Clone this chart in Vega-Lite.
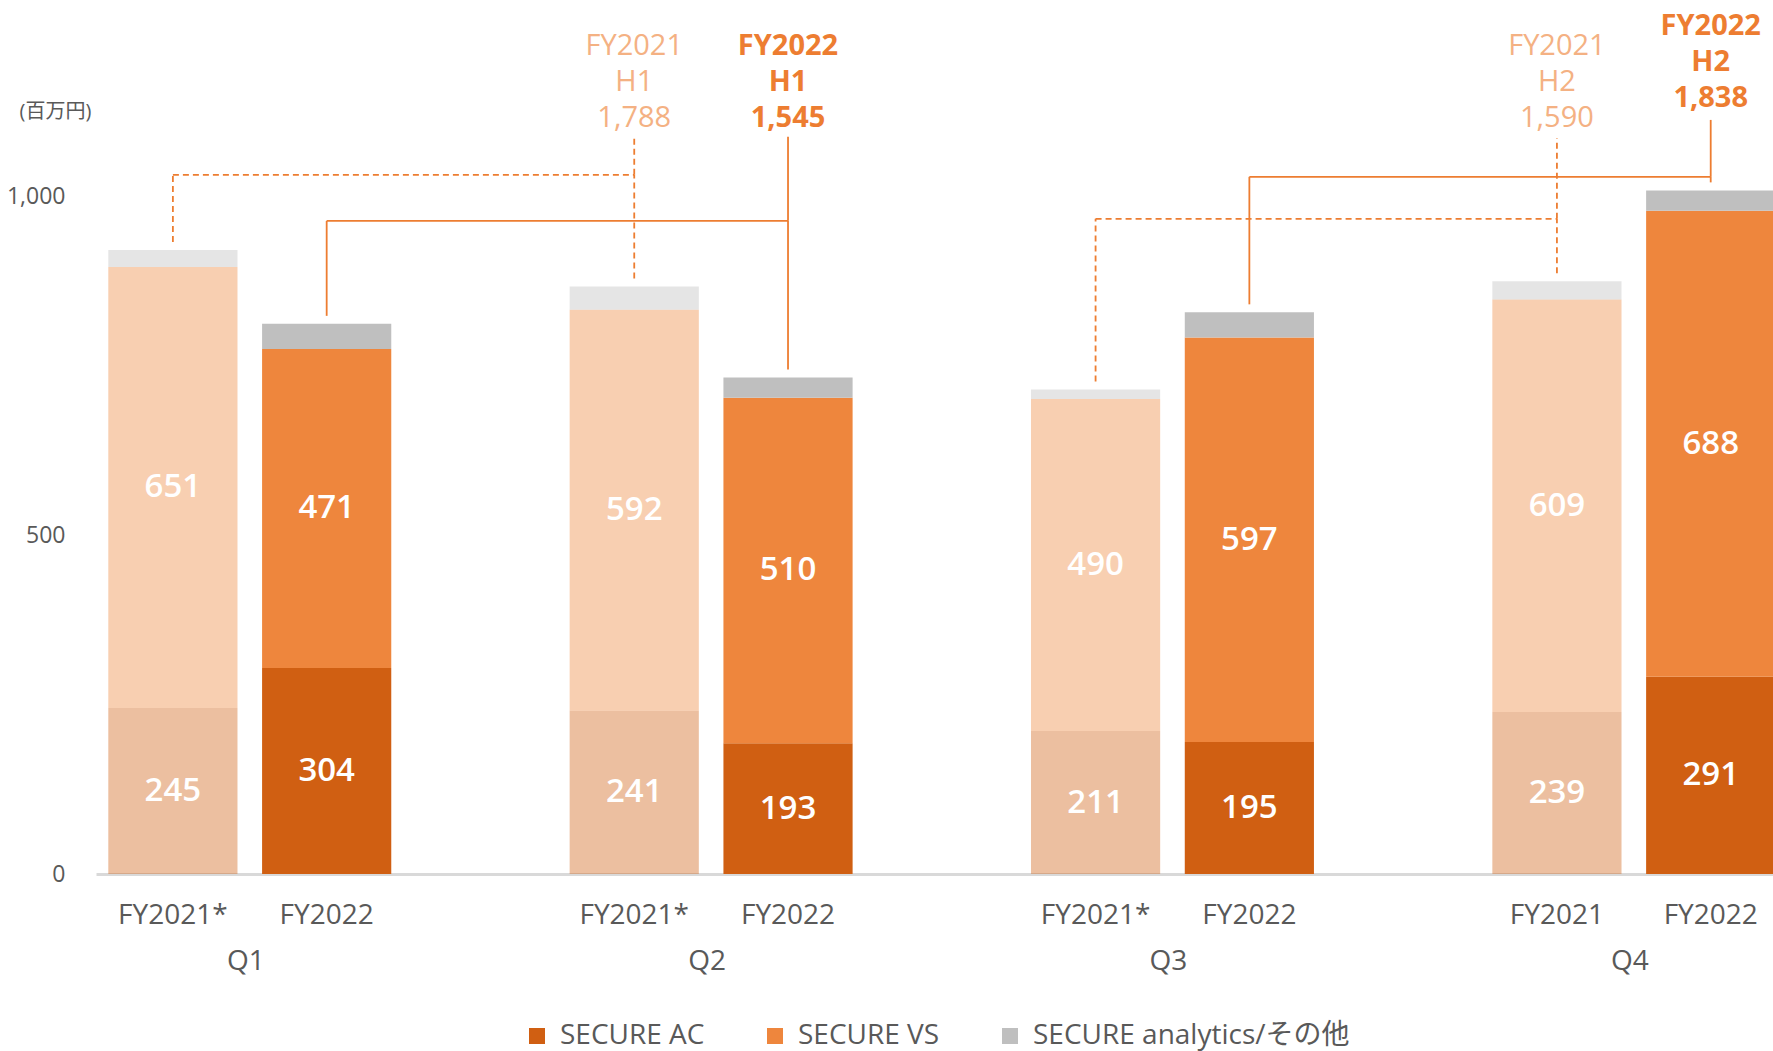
{
  "$schema": "https://vega.github.io/schema/vega-lite/v6.json",
  "width": 1677,
  "height": 874,
  "autosize": {"type": "none"},
  "padding": {"left": 96, "top": 0, "right": 0, "bottom": 177},
  "background": "white",
  "config": {
    "view": {"stroke": null},
    "font": "Open Sans, Noto Sans CJK JP, sans-serif"
  },
  "datasets": {
    "bars": [
      {"q": "Q1", "fy": "FY2021", "half": "H1", "slot": "Q1|FY2021", "seg": "SECURE AC", "v": 245},
      {"q": "Q1", "fy": "FY2021", "half": "H1", "slot": "Q1|FY2021", "seg": "SECURE VS", "v": 651},
      {"q": "Q1", "fy": "FY2021", "half": "H1", "slot": "Q1|FY2021", "seg": "SECURE analytics/その他", "v": 25},
      {"q": "Q1", "fy": "FY2022", "half": "H1", "slot": "Q1|FY2022", "seg": "SECURE AC", "v": 304},
      {"q": "Q1", "fy": "FY2022", "half": "H1", "slot": "Q1|FY2022", "seg": "SECURE VS", "v": 471},
      {"q": "Q1", "fy": "FY2022", "half": "H1", "slot": "Q1|FY2022", "seg": "SECURE analytics/その他", "v": 37},
      {"q": "Q2", "fy": "FY2021", "half": "H1", "slot": "Q2|FY2021", "seg": "SECURE AC", "v": 241},
      {"q": "Q2", "fy": "FY2021", "half": "H1", "slot": "Q2|FY2021", "seg": "SECURE VS", "v": 592},
      {"q": "Q2", "fy": "FY2021", "half": "H1", "slot": "Q2|FY2021", "seg": "SECURE analytics/その他", "v": 34},
      {"q": "Q2", "fy": "FY2022", "half": "H1", "slot": "Q2|FY2022", "seg": "SECURE AC", "v": 193},
      {"q": "Q2", "fy": "FY2022", "half": "H1", "slot": "Q2|FY2022", "seg": "SECURE VS", "v": 510},
      {"q": "Q2", "fy": "FY2022", "half": "H1", "slot": "Q2|FY2022", "seg": "SECURE analytics/その他", "v": 30},
      {"q": "Q3", "fy": "FY2021", "half": "H2", "slot": "Q3|FY2021", "seg": "SECURE AC", "v": 211},
      {"q": "Q3", "fy": "FY2021", "half": "H2", "slot": "Q3|FY2021", "seg": "SECURE VS", "v": 490},
      {"q": "Q3", "fy": "FY2021", "half": "H2", "slot": "Q3|FY2021", "seg": "SECURE analytics/その他", "v": 14},
      {"q": "Q3", "fy": "FY2022", "half": "H2", "slot": "Q3|FY2022", "seg": "SECURE AC", "v": 195},
      {"q": "Q3", "fy": "FY2022", "half": "H2", "slot": "Q3|FY2022", "seg": "SECURE VS", "v": 597},
      {"q": "Q3", "fy": "FY2022", "half": "H2", "slot": "Q3|FY2022", "seg": "SECURE analytics/その他", "v": 37},
      {"q": "Q4", "fy": "FY2021", "half": "H2", "slot": "Q4|FY2021", "seg": "SECURE AC", "v": 239},
      {"q": "Q4", "fy": "FY2021", "half": "H2", "slot": "Q4|FY2021", "seg": "SECURE VS", "v": 609},
      {"q": "Q4", "fy": "FY2021", "half": "H2", "slot": "Q4|FY2021", "seg": "SECURE analytics/その他", "v": 27},
      {"q": "Q4", "fy": "FY2022", "half": "H2", "slot": "Q4|FY2022", "seg": "SECURE AC", "v": 291},
      {"q": "Q4", "fy": "FY2022", "half": "H2", "slot": "Q4|FY2022", "seg": "SECURE VS", "v": 688},
      {"q": "Q4", "fy": "FY2022", "half": "H2", "slot": "Q4|FY2022", "seg": "SECURE analytics/その他", "v": 30}
    ],
    "notes": [
      {"slot": "Q2|FY2021", "fy": "FY2021", "half": "H1", "label": ["FY2021", "H1", "1,788"]},
      {"slot": "Q2|FY2022", "fy": "FY2022", "half": "H1", "label": ["FY2022", "H1", "1,545"]},
      {"slot": "Q4|FY2021", "fy": "FY2021", "half": "H2", "label": ["FY2021", "H2", "1,590"]},
      {"slot": "Q4|FY2022", "fy": "FY2022", "half": "H2", "label": ["FY2022", "H2", "1,838"]}
    ]
  },
  "layer": [
    {
      "data": {"name": "bars"},
      "mark": {"type": "bar", "width": {"band": 0.84}},
      "encoding": {
        "x": {
          "field": "slot", "type": "nominal",
          "scale": {
            "type": "band",
            "domain": ["Q1|FY2021", "Q1|FY2022", "Q1|gap", "Q2|FY2021", "Q2|FY2022", "Q2|gap", "Q3|FY2021", "Q3|FY2022", "Q3|gap", "Q4|FY2021", "Q4|FY2022"],
            "range": [0, 1691.6],
            "paddingInner": 0,
            "paddingOuter": 0
          },
          "axis": {
            "title": null,
            "labelExpr": "indexof(datum.value,'gap')>=0 ? '' : (datum.value=='Q4|FY2021' ? 'FY2021' : (indexof(datum.value,'FY2021')>=0 ? 'FY2021*' : 'FY2022'))",
            "labelAngle": 0,
            "labelFontSize": 28,
            "labelColor": "#595959",
            "labelPadding": 49,
            "labelBaseline": "alphabetic",
            "ticks": false,
            "tickSize": 0,
            "domainColor": "#D9D9D9",
            "domainWidth": 3,
            "grid": false
          }
        },
        "y": {
          "field": "v", "type": "quantitative", "stack": "zero",
          "scale": {"domain": [0, 1290], "nice": false, "zero": true},
          "axis": {
            "title": "(百万円)",
            "titleAngle": 0,
            "titleX": -41,
            "titleY": 111,
            "titleAlign": "center",
            "titleBaseline": "middle",
            "titleFontSize": 20,
            "titleFontWeight": "normal",
            "titleColor": "#595959",
            "values": [0, 500, 1000],
            "format": ",.0f",
            "labelFontSize": 23,
            "labelColor": "#595959",
            "labelPadding": 31,
            "ticks": false,
            "tickSize": 0,
            "domain": false,
            "grid": false
          }
        },
        "color": {
          "field": "seg", "type": "nominal",
          "scale": {
            "domain": ["SECURE AC", "SECURE VS", "SECURE analytics/その他"],
            "range": ["#D05F12", "#EE863D", "#BFBFBF"]
          },
          "legend": {
            "title": null,
            "orient": "none",
            "legendX": 427,
            "legendY": 1022,
            "direction": "horizontal",
            "symbolType": "square",
            "symbolSize": 256,
            "symbolStrokeWidth": 0,
            "labelFontSize": 28,
            "labelColor": "#595959",
            "labelOffset": 9,
            "columnPadding": 56,
            "padding": 0,
            "labelLimit": 600
          }
        },
        "opacity": {
          "field": "fy", "type": "ordinal",
          "scale": {"domain": ["FY2021", "FY2022"], "range": [0.4, 1]},
          "legend": null
        },
        "order": {"field": "seg", "sort": "ascending"}
      }
    },
    {
      "data": {"name": "bars"},
      "transform": [{"filter": "datum.seg != 'SECURE analytics/その他'"}],
      "mark": {"type": "text", "color": "white", "fontSize": 33, "fontWeight": 600, "baseline": "middle", "align": "center"},
      "encoding": {
        "x": {"field": "slot", "type": "nominal"},
        "y": {"field": "v", "type": "quantitative", "stack": "zero", "bandPosition": 0.5},
        "detail": {"field": "seg", "type": "nominal"},
        "order": {"field": "seg", "sort": "ascending"},
        "text": {"field": "v", "type": "quantitative", "format": ","}
      }
    },
    {
      "data": {"name": "bars"},
      "transform": [
        {"filter": "datum.half=='H1' && datum.fy=='FY2021'"},
        {"aggregate": [{"op": "sum", "field": "v", "as": "total"}], "groupby": ["slot"]}
      ],
      "layer": [
        {
          "mark": {"type": "rule", "color": "#ED7D31", "strokeWidth": 1.8, "strokeDash": [6, 4], "yOffset": -8},
          "encoding": {"x": {"field": "slot", "type": "nominal"}, "y": {"field": "total", "type": "quantitative"}, "y2": {"datum": 1032}}
        },
        {
          "mark": {"type": "line", "color": "#ED7D31", "strokeWidth": 1.8, "strokeDash": [6, 4]},
          "encoding": {"x": {"field": "slot", "type": "nominal"}, "y": {"datum": 1032}}
        }
      ]
    },
    {
      "data": {"name": "notes"},
      "transform": [{"filter": "datum.half=='H1' && datum.fy=='FY2021'"}],
      "mark": {"type": "rule", "color": "#ED7D31", "strokeWidth": 1.8, "strokeDash": [6, 4]},
      "encoding": {"x": {"field": "slot", "type": "nominal"}, "y": {"datum": 1032}, "y2": {"datum": 1088}}
    },
    {
      "data": {"name": "bars"},
      "transform": [
        {"filter": "datum.half=='H1' && datum.fy=='FY2022'"},
        {"aggregate": [{"op": "sum", "field": "v", "as": "total"}], "groupby": ["slot"]}
      ],
      "layer": [
        {
          "mark": {"type": "rule", "color": "#ED7D31", "strokeWidth": 1.8, "yOffset": -8},
          "encoding": {"x": {"field": "slot", "type": "nominal"}, "y": {"field": "total", "type": "quantitative"}, "y2": {"datum": 964}}
        },
        {
          "mark": {"type": "line", "color": "#ED7D31", "strokeWidth": 1.8},
          "encoding": {"x": {"field": "slot", "type": "nominal"}, "y": {"datum": 964}}
        }
      ]
    },
    {
      "data": {"name": "notes"},
      "transform": [{"filter": "datum.half=='H1' && datum.fy=='FY2022'"}],
      "mark": {"type": "rule", "color": "#ED7D31", "strokeWidth": 1.8},
      "encoding": {"x": {"field": "slot", "type": "nominal"}, "y": {"datum": 964}, "y2": {"datum": 1088}}
    },
    {
      "data": {"name": "bars"},
      "transform": [
        {"filter": "datum.half=='H2' && datum.fy=='FY2021'"},
        {"aggregate": [{"op": "sum", "field": "v", "as": "total"}], "groupby": ["slot"]}
      ],
      "layer": [
        {
          "mark": {"type": "rule", "color": "#ED7D31", "strokeWidth": 1.8, "strokeDash": [6, 4], "yOffset": -8},
          "encoding": {"x": {"field": "slot", "type": "nominal"}, "y": {"field": "total", "type": "quantitative"}, "y2": {"datum": 967}}
        },
        {
          "mark": {"type": "line", "color": "#ED7D31", "strokeWidth": 1.8, "strokeDash": [6, 4]},
          "encoding": {"x": {"field": "slot", "type": "nominal"}, "y": {"datum": 967}}
        }
      ]
    },
    {
      "data": {"name": "notes"},
      "transform": [{"filter": "datum.half=='H2' && datum.fy=='FY2021'"}],
      "mark": {"type": "rule", "color": "#ED7D31", "strokeWidth": 1.8, "strokeDash": [6, 4]},
      "encoding": {"x": {"field": "slot", "type": "nominal"}, "y": {"datum": 967}, "y2": {"datum": 1086}}
    },
    {
      "data": {"name": "bars"},
      "transform": [
        {"filter": "datum.half=='H2' && datum.fy=='FY2022'"},
        {"aggregate": [{"op": "sum", "field": "v", "as": "total"}], "groupby": ["slot"]}
      ],
      "layer": [
        {
          "mark": {"type": "rule", "color": "#ED7D31", "strokeWidth": 1.8, "yOffset": -8},
          "encoding": {"x": {"field": "slot", "type": "nominal"}, "y": {"field": "total", "type": "quantitative"}, "y2": {"datum": 1029}}
        },
        {
          "mark": {"type": "line", "color": "#ED7D31", "strokeWidth": 1.8},
          "encoding": {"x": {"field": "slot", "type": "nominal"}, "y": {"datum": 1029}}
        }
      ]
    },
    {
      "data": {"name": "notes"},
      "transform": [{"filter": "datum.half=='H2' && datum.fy=='FY2022'"}],
      "mark": {"type": "rule", "color": "#ED7D31", "strokeWidth": 1.8},
      "encoding": {"x": {"field": "slot", "type": "nominal"}, "y": {"datum": 1029}, "y2": {"datum": 1113}}
    },
    {
      "data": {"name": "notes"},
      "transform": [{"filter": "datum.fy=='FY2021'"}],
      "mark": {"type": "text", "color": "#F4B183", "fontSize": 29, "fontWeight": "normal", "lineHeight": 36, "baseline": "alphabetic", "align": "center"},
      "encoding": {"x": {"field": "slot", "type": "nominal"}, "y": {"datum": 1209}, "text": {"field": "label", "type": "nominal"}}
    },
    {
      "data": {"name": "notes"},
      "transform": [{"filter": "datum.fy=='FY2022' && datum.half=='H1'"}],
      "mark": {"type": "text", "color": "#ED7D31", "fontSize": 29, "fontWeight": "bold", "lineHeight": 36, "baseline": "alphabetic", "align": "center"},
      "encoding": {"x": {"field": "slot", "type": "nominal"}, "y": {"datum": 1209}, "text": {"field": "label", "type": "nominal"}}
    },
    {
      "data": {"name": "notes"},
      "transform": [{"filter": "datum.fy=='FY2022' && datum.half=='H2'"}],
      "mark": {"type": "text", "color": "#ED7D31", "fontSize": 29, "fontWeight": "bold", "lineHeight": 36, "baseline": "alphabetic", "align": "center"},
      "encoding": {"x": {"field": "slot", "type": "nominal"}, "y": {"datum": 1238}, "text": {"field": "label", "type": "nominal"}}
    },
    {
      "data": {"name": "bars"},
      "transform": [{"filter": "datum.fy=='FY2021' && datum.seg=='SECURE AC'"}],
      "mark": {"type": "text", "color": "#595959", "fontSize": 28, "baseline": "alphabetic", "align": "center", "dx": -4},
      "encoding": {"x": {"field": "slot", "type": "nominal", "bandPosition": 1}, "y": {"datum": -141.7}, "text": {"field": "q", "type": "nominal"}}
    }
  ]
}
